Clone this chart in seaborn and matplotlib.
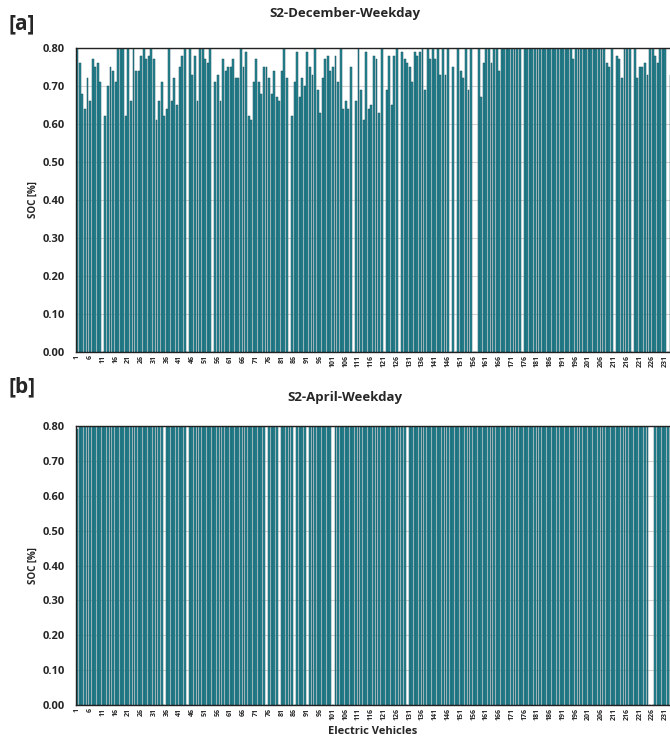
import numpy as np
import pandas as pd
import matplotlib
matplotlib.use("Agg")
import matplotlib.pyplot as plt
import seaborn as sns

# ---------------- data ----------------
ev_ids = list(range(1, 234))

soc_december = [
    0.80, 0.76, 0.68, 0.64, 0.72, 0.66, 0.77, 0.75, 0.76, 0.71,   # 1-10
    0.00, 0.62, 0.70, 0.75, 0.74, 0.71, 0.80, 0.80, 0.80, 0.62,   # 11-20
    0.80, 0.66, 0.80, 0.74, 0.74, 0.78, 0.80, 0.77, 0.78, 0.80,   # 21-30
    0.77, 0.61, 0.66, 0.71, 0.62, 0.64, 0.80, 0.66, 0.72, 0.65,   # 31-40
    0.75, 0.78, 0.80, 0.00, 0.80, 0.73, 0.78, 0.66, 0.80, 0.80,   # 41-50
    0.77, 0.76, 0.80, 0.00, 0.71, 0.73, 0.66, 0.77, 0.74, 0.75,   # 51-60
    0.75, 0.77, 0.72, 0.72, 0.80, 0.75, 0.79, 0.62, 0.61, 0.71,   # 61-70
    0.77, 0.71, 0.68, 0.75, 0.75, 0.72, 0.68, 0.74, 0.67, 0.66,   # 71-80
    0.74, 0.80, 0.72, 0.00, 0.62, 0.71, 0.79, 0.67, 0.72, 0.70,   # 81-90
    0.79, 0.75, 0.73, 0.80, 0.69, 0.63, 0.72, 0.77, 0.78, 0.74,   # 91-100
    0.75, 0.78, 0.71, 0.80, 0.64, 0.66, 0.64, 0.75, 0.00, 0.66,   # 101-110
    0.80, 0.69, 0.61, 0.79, 0.64, 0.65, 0.78, 0.77, 0.63, 0.80,   # 111-120
    0.00, 0.69, 0.78, 0.65, 0.78, 0.80, 0.00, 0.79, 0.77, 0.76,   # 121-130
    0.75, 0.71, 0.79, 0.78, 0.79, 0.80, 0.69, 0.80, 0.77, 0.80,   # 131-140
    0.77, 0.80, 0.73, 0.80, 0.73, 0.80, 0.00, 0.75, 0.00, 0.80,   # 141-150
    0.74, 0.72, 0.80, 0.69, 0.80, 0.00, 0.00, 0.80, 0.67, 0.76,   # 151-160
    0.80, 0.80, 0.76, 0.80, 0.80, 0.74, 0.80, 0.80, 0.80, 0.80,   # 161-170
    0.80, 0.80, 0.80, 0.80, 0.00, 0.80, 0.80, 0.80, 0.80, 0.80,   # 171-180
    0.80, 0.80, 0.80, 0.80, 0.80, 0.80, 0.80, 0.80, 0.80, 0.80,   # 181-190
    0.80, 0.80, 0.80, 0.80, 0.77, 0.80, 0.80, 0.80, 0.80, 0.80,   # 191-200
    0.80, 0.80, 0.80, 0.80, 0.80, 0.80, 0.80, 0.76, 0.75, 0.80,   # 201-210
    0.00, 0.78, 0.77, 0.72, 0.80, 0.80, 0.80, 0.00, 0.80, 0.72,   # 211-220
    0.75, 0.75, 0.76, 0.73, 0.80, 0.80, 0.78, 0.76, 0.80, 0.80,   # 221-230
    0.80, 0.00, 0.73,                                             # 231-233
]

april_gaps = [35, 44, 75, 80, 86, 91, 101, 130, 225, 226]
soc_april = [0.00 if i in april_gaps else 0.80 for i in ev_ids]
soc_april[0] = 0.79

tick_ids = list(range(1, 232, 5))
y_ticks = [0.0, 0.1, 0.2, 0.3, 0.4, 0.5, 0.6, 0.7, 0.8]

titles = ["S2-December-Weekday", "S2-April-Weekday"]
panel_tags = ["[a]", "[b]"]

# ---------------- style ----------------
sns.set_theme(style="white")
plt.rcParams['font.family'] = ['Open Sans', 'DejaVu Sans']

bar_face = "#268896"
bar_edge = "#17505b"

fig = plt.figure(figsize=(6.7, 7.44), dpi=100)
W, H = 670.0, 744.0
ax_top = fig.add_axes([76 / W, 1 - 352 / H, (670 - 76) / W, (352 - 48) / H])
ax_bot = fig.add_axes([76 / W, 1 - 705 / H, (670 - 76) / W, (705 - 426) / H])

for ax, vals in [(ax_top, soc_december), (ax_bot, soc_april)]:
    df = pd.DataFrame({"ev": ev_ids, "soc": vals})
    sns.barplot(data=df, x="ev", y="soc", color=bar_face, saturation=1,
                edgecolor=bar_edge, linewidth=0.35, width=0.74, ax=ax)
    ax.set_xlim(-0.5, 231.8)
    ax.set_ylim(0, 0.8)
    ax.set_axisbelow(True)
    ax.yaxis.grid(True, color="#d4d4d4", linewidth=0.8)
    ax.xaxis.grid(False)
    ax.set_yticks(y_ticks)
    ax.set_yticklabels([f"{v:.2f}" for v in y_ticks], fontsize=8, fontweight="bold")
    ax.set_xticks([i - 1 for i in tick_ids])
    ax.set_xticklabels([str(i) for i in tick_ids], rotation=90, fontsize=5,
                       fontweight="bold")
    ax.tick_params(axis="both", length=0)
    ax.tick_params(axis="y", pad=8)
    ax.tick_params(axis="x", pad=2.5)
    for s in ["top", "left", "bottom"]:
        ax.spines[s].set_visible(True)
        ax.spines[s].set_color("#222222")
        ax.spines[s].set_linewidth(1.0)
    ax.spines["right"].set_visible(False)
    ax.set_ylabel("SOC [%]", fontsize=7, fontweight="bold", labelpad=3)
    ax.set_xlabel("")

ax_bot.set_xlabel("Electric Vehicles", fontsize=8, fontweight="bold", labelpad=4)

fig.text(345 / W, 1 - 14 / H, titles[0], ha="center", va="center",
         fontsize=9.5, fontweight="bold")
fig.text(345 / W, 1 - 398 / H, titles[1], ha="center", va="center",
         fontsize=9.5, fontweight="bold")
fig.text(8 / W, 1 - 24 / H, panel_tags[0], ha="left", va="center",
         fontsize=15, fontweight="bold")
fig.text(8 / W, 1 - 387 / H, panel_tags[1], ha="left", va="center",
         fontsize=15, fontweight="bold")

fig.savefig("out.png", dpi=100)
